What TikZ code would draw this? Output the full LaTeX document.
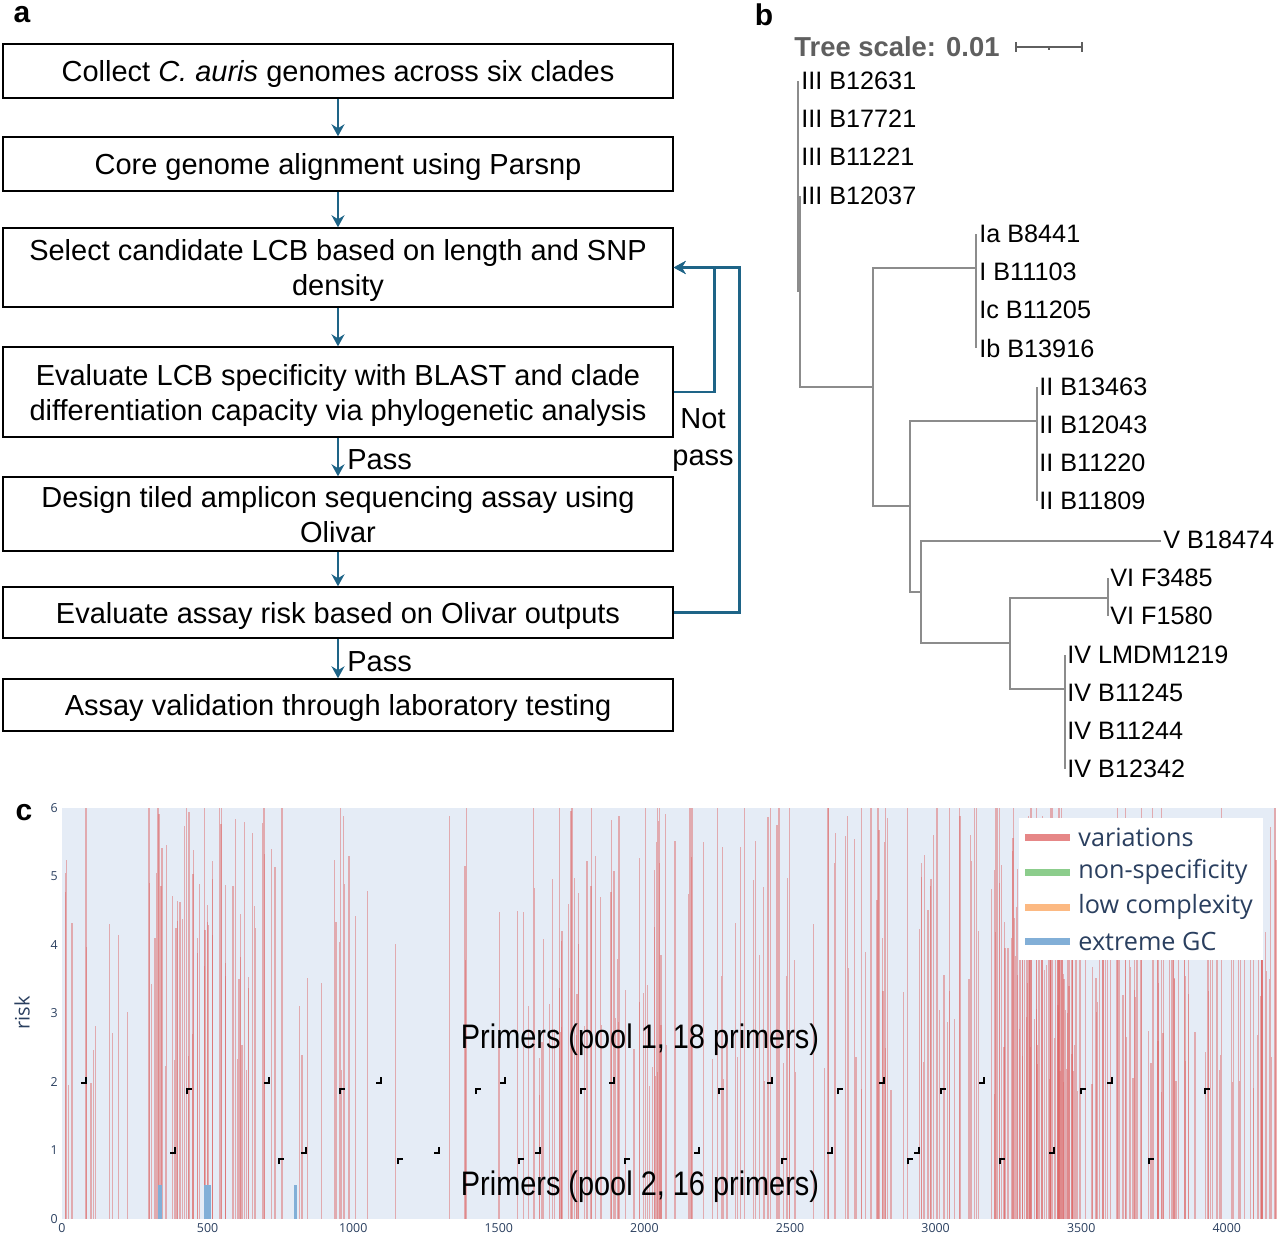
\documentclass[tikz,border=0pt]{standalone}
\usepackage{fontspec}
\setmainfont{Liberation Sans}
\newfontfamily\plotfont{Open Sans}
\usetikzlibrary{arrows.meta, calc}

\definecolor{flowblue}{RGB}{30,100,135}
\definecolor{treegray}{RGB}{140,140,140}
\definecolor{scalegray}{RGB}{95,95,95}
\definecolor{plotbg}{RGB}{229,236,246}
\definecolor{plotink}{RGB}{42,63,95}
\definecolor{varred}{RGB}{222,105,105}
\definecolor{varswatch}{RGB}{230,135,135}
\definecolor{nsgreen}{RGB}{140,205,140}
\definecolor{lcorange}{RGB}{252,185,130}
\definecolor{gcblue}{RGB}{130,175,215}

\begin{document}
\begin{tikzpicture}[x=0.5pt, y=-0.5pt, >={Stealth},
    stepbox/.style={draw, line width=0.7pt, minimum width=335pt, align=center,
        inner sep=2pt, text depth=0pt, font=\fontsize{14.5}{17.5}\selectfont},
    flow/.style={flowblue, line width=1.3pt, -{Stealth[length=6pt, width=6.5pt]}},
    passtext/.style={right, text=black, inner sep=4pt, text depth=0pt, yshift=-1.5pt,
        font=\fontsize{14.5}{14.5}\selectfont},
    panel/.style={font=\bfseries\fontsize{15}{15}\selectfont},
    branch/.style={treegray, line width=0.7pt},
    leaf/.style={anchor=west, inner sep=0pt, font=\fontsize{12.6}{12.6}\selectfont},
    variation/.style={varred, line width=0.6pt, opacity=0.5},
    ticklab/.style={inner sep=2pt, text=plotink, font=\plotfont\fontsize{6.2}{6.2}\selectfont},
    primer/.style={black, line width=1pt},
    legendtext/.style={anchor=west, inner sep=0pt, text=plotink,
        font=\plotfont\fontsize{12.6}{12.6}\selectfont},
    pooltext/.style={inner sep=0pt, font=\fontsize{17}{17}\selectfont}]

    \useasboundingbox (0,0) rectangle (1280,1238);

    % panel letters
    \node[panel] (pa) at (22,15) {a};
    \node[panel] (pb) at (764,15) {b};
    \node[panel] (pc) at (24,813) {c};

    % a: workflow
    \node[stepbox, minimum height=27pt] (collect) at (338,71)
        {Collect \textit{C. auris} genomes across six clades};
    \node[stepbox, minimum height=27pt] (align) at (338,164)
        {Core genome alignment using Parsnp};
    \node[stepbox, minimum height=39.5pt] (select) at (338,267.5)
        {Select candidate LCB based on length and SNP\\density};
    \node[stepbox, minimum height=45pt] (evaluate) at (338,392)
        {Evaluate LCB specificity with BLAST and clade\\differentiation capacity via phylogenetic analysis};
    \node[stepbox, minimum height=37pt] (design) at (338,514)
        {Design tiled amplicon sequencing assay using\\Olivar};
    \node[stepbox, minimum height=25.5pt] (riskeval) at (338,612.5)
        {Evaluate assay risk based on Olivar outputs};
    \node[stepbox, minimum height=26pt] (validate) at (338,705)
        {Assay validation through laboratory testing};

    \draw[flow] (collect) -- (align);
    \draw[flow] (align) -- (select);
    \draw[flow] (select) -- (evaluate);
    \draw[flow] (evaluate) -- node[passtext] (pass1) {Pass} (design);
    \draw[flow] (design) -- (riskeval);
    \draw[flow] (riskeval) -- node[passtext] (pass2) {Pass} (validate);

    % not pass loops
    \draw[flow] (evaluate.east) -- ++(41,0) |- (select.east);
    \draw[flow] (riskeval.east) -- ++(66,0) |- (select.east);
    \node[align=center, inner sep=0pt, text depth=0pt, font=\fontsize{14.5}{18.5}\selectfont]
        (notpass) at (703,437) {Not\\pass};

    % b: tree
    \node[anchor=west, inner sep=0pt, text=scalegray,
        font=\bfseries\fontsize{13.7}{13.7}\selectfont] (tscale) at (794,47) {Tree scale: 0.01};
    \draw[scalegray, line width=0.8pt] (1016,42) -- (1016,52) (1016,47) -- (1082,47)
        (1082,42) -- (1082,52) (1049,47) -- (1049,50);

    \draw[branch] (798,81) -- (798,292);
    \draw[branch] (800,196) |- (873,387);
    \draw[branch] (976,268) -| (873,506) -- (910,506);
    \draw[branch] (976,234) -- (976,348);
    \draw[branch] (1037,421) -| (910,592) -- (921,592);
    \draw[branch] (1037,387) -- (1037,501);
    \draw[branch] (1161,541) -| (921,643) -- (1010,643);
    \draw[branch] (1108,598) -| (1010,689) -- (1065,689);
    \draw[branch] (1108,578) -- (1108,616);
    \draw[branch] (1065,655) -- (1065,769);

    \foreach \y/\lab in {81/III B12631, 119/III B17721, 157/III B11221, 196/III B12037}
        \node[leaf] (leaf\y) at (801,\y) {\lab};
    \foreach \y/\lab in {234/Ia B8441, 272/I B11103, 310/Ic B11205, 348/Ib B13916}
        \node[leaf] (leaf\y) at (979,\y) {\lab};
    \foreach \y/\lab in {387/II B13463, 425/II B12043, 463/II B11220, 501/II B11809}
        \node[leaf] (leaf\y) at (1039,\y) {\lab};
    \node[leaf] (leaf540) at (1163,540) {V B18474};
    \foreach \y/\lab in {578/VI F3485, 616/VI F1580}
        \node[leaf] (leaf\y) at (1110,\y) {\lab};
    \foreach \y/\lab in {655/IV LMDM1219, 693/IV B11245, 731/IV B11244, 769/IV B12342}
        \node[leaf] (leaf\y) at (1067,\y) {\lab};

    % c: risk plot
    \fill[plotbg] (62,808) rectangle (1276,1219);
    \begin{scope}[shift={(62,1219)}, x=0.1456pt, y=34.25pt]
        \pgfmathsetseed{1234}
        \foreach \lo/\hi/\n in {0/300/15, 300/700/60, 700/1000/15, 1000/1380/4,
                1380/1400/3, 1400/1600/4, 1600/2100/60, 2100/2700/40,
                2700/3200/45, 3200/3500/95, 3500/4170/90}{
            \foreach \k in {1,...,\n}{
                \pgfmathsetmacro{\xx}{\lo+rnd*(\hi-\lo)}
                \pgfmathsetmacro{\hh}{min(6,1.8+5*rnd)}
                \draw[variation] (\xx,0) -- (\xx,\hh);
            }
        }
        % extreme GC
        \fill[gcblue] (330,0) rectangle (345,0.5);
        \fill[gcblue] (486,0) rectangle (513,0.5);
        \fill[gcblue] (795,0) rectangle (808,0.5);

        \foreach \t in {0,500,...,4000}
            \node[ticklab, below] (xt\t) at (\t,0) {\t};
        \foreach \r in {0,...,6}
            \node[ticklab, left] (yt\r) at (0,\r) {\r};
    \end{scope}

    \node[rotate=90, inner sep=0pt, text=plotink, font=\plotfont\fontsize{10}{10}\selectfont]
        (risklab) at (22,1013) {risk};

    % primers, pool 1
    \foreach \p in {84,267,379,503,612,770,882,982,1110}
        \draw[primer] (\p-3,1083) -- (\p+2,1083) -- (\p+2,1077);
    \foreach \p in {189,342,478,583,721,840,943,1083,1207}
        \draw[primer] (\p-2,1094) -- (\p-2,1089) -- (\p+3,1089);
    % primers, pool 2
    \foreach \p in {173,304,437,538,697,830,917,1052}
        \draw[primer] (\p-3,1153) -- (\p+2,1153) -- (\p+2,1147);
    \foreach \p in {281,400,521,627,784,910,1002,1151}
        \draw[primer] (\p-2,1164) -- (\p-2,1159) -- (\p+3,1159);

    \node[pooltext] (pool1) at (640,1040) {\scalebox{0.85}[1]{Primers (pool 1, 18 primers)}};
    \node[pooltext] (pool2) at (640,1187) {\scalebox{0.85}[1]{Primers (pool 2, 16 primers)}};

    % legend
    \node[fill=white, inner sep=0pt, minimum width=122pt, minimum height=71pt,
        anchor=north west] (legend) at (1019,818) {};
    \foreach \y/\c/\t in {837/varswatch/variations, 872/nsgreen/non-specificity,
            907/lcorange/low complexity, 941/gcblue/extreme GC}{
        \draw[\c, line width=3.5pt] (1025,\y) -- (1070,\y);
        \node[legendtext] (lg\y) at (1078,\y) {\t};
    }
\end{tikzpicture}
\end{document}
